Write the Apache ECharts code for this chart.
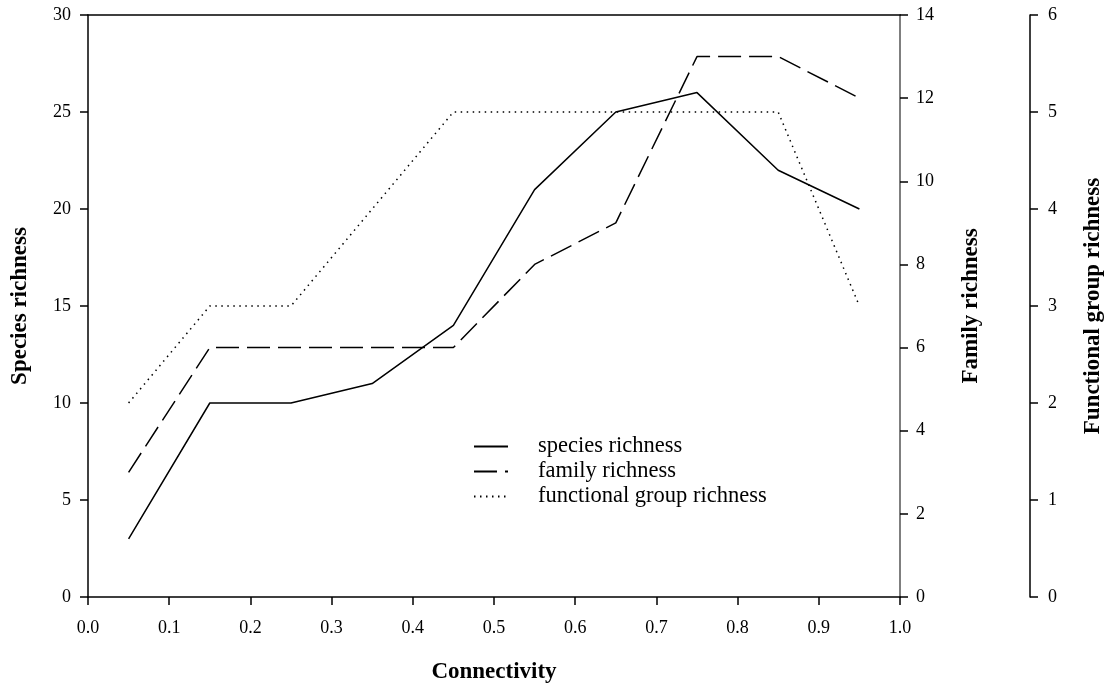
<!DOCTYPE html>
<html>
<head>
<meta charset="utf-8">
<script src="https://cdn.jsdelivr.net/npm/echarts@6/dist/echarts.min.js"></script>
<style>html,body{margin:0;padding:0;background:#fff}#c{width:1112px;height:696px}</style>
</head>
<body>
<div id="c"></div>
<script>
const connectivity = [0.05, 0.15, 0.25, 0.35, 0.45, 0.55, 0.65, 0.75, 0.85, 0.95];
const speciesRichness = [3, 10, 10, 11, 14, 21, 25, 26, 22, 20];
const familyRichness = [3, 6, 6, 6, 6, 8, 9, 13, 13, 12];
const functionalRichness = [2, 3, 3, 4, 5, 5, 5, 5, 5, 3];
const seriesNames = ['species richness', 'family richness', 'functional group richness'];

const FONT = 'Liberation Serif';
const chart = echarts.init(document.getElementById('c'), null, {renderer: 'canvas'});
const pair = (ys) => connectivity.map((x, i) => [x, ys[i]]);
const tickLabel = {color: '#000', fontFamily: FONT, fontSize: 18};
const nameStyle = {color: '#000', fontFamily: FONT, fontSize: 23, fontWeight: 'bold'};

chart.setOption({
  animation: false,
  backgroundColor: '#fff',
  grid: {left: 88, right: 212, top: 15, bottom: 99, containLabel: false, outerBoundsMode: 'none'},
  legend: {
    orient: 'vertical', left: 468, top: 430, itemWidth: 34, itemHeight: 14, itemGap: 2,
    data: seriesNames,
    itemStyle: {color: 'rgba(0,0,0,0)', borderWidth: 0, opacity: 0},
    textStyle: {color: '#000', fontFamily: FONT, fontSize: 22.5, padding: [0, 0, 0, 25]}
  },
  xAxis: [{
    type: 'value', min: 0, max: 1, interval: 0.1, position: 'bottom',
    name: 'Connectivity', nameLocation: 'middle', nameGap: 64, nameTextStyle: nameStyle,
    axisLine: {show: true, onZero: false, lineStyle: {color: '#000', width: 1.5}},
    axisTick: {show: true, inside: false, length: 8, lineStyle: {color: '#000', width: 1.5}},
    axisLabel: Object.assign({margin: 22, formatter: v => v.toFixed(1)}, tickLabel),
    splitLine: {show: false}
  }, {
    type: 'value', min: 0, max: 1, position: 'top',
    axisLine: {show: true, onZero: false, lineStyle: {color: '#000', width: 1.5}},
    axisTick: {show: false}, axisLabel: {show: false}, splitLine: {show: false}
  }],
  yAxis: [{
    type: 'value', min: 0, max: 30, interval: 5, position: 'left',
    name: 'Species richness', nameLocation: 'middle', nameGap: 56, nameTextStyle: nameStyle,
    axisLine: {show: true, onZero: false, lineStyle: {color: '#000', width: 1.5}},
    axisTick: {show: true, length: 8, lineStyle: {color: '#000', width: 1.5}},
    axisLabel: Object.assign({margin: 17}, tickLabel),
    splitLine: {show: false}
  }, {
    type: 'value', min: 0, max: 14, interval: 2, position: 'right',
    name: 'Family richness', nameLocation: 'middle', nameGap: 60, nameTextStyle: nameStyle,
    axisLine: {show: true, onZero: false, lineStyle: {color: '#555', width: 1.5}},
    axisTick: {show: true, length: 8, lineStyle: {color: '#000', width: 1.5}},
    axisLabel: Object.assign({margin: 16}, tickLabel),
    splitLine: {show: false}
  }, {
    type: 'value', min: 0, max: 6, interval: 1, position: 'right', offset: 130,
    name: 'Functional group richness', nameLocation: 'middle', nameGap: 52, nameTextStyle: nameStyle,
    axisLine: {show: true, onZero: false, lineStyle: {color: '#000', width: 1.5}},
    axisTick: {show: true, length: 8, lineStyle: {color: '#000', width: 1.5}},
    axisLabel: Object.assign({margin: 18}, tickLabel),
    splitLine: {show: false}
  }],
  series: [{
    name: seriesNames[0], type: 'line', xAxisIndex: 0, yAxisIndex: 0,
    data: pair(speciesRichness), symbol: 'none', silent: true,
    lineStyle: {color: '#000', width: 1.5, type: 'solid'}, itemStyle: {color: '#000'}
  }, {
    name: seriesNames[1], type: 'line', xAxisIndex: 0, yAxisIndex: 1,
    data: pair(familyRichness), symbol: 'none', silent: true,
    lineStyle: {color: '#000', width: 1.5, type: [23, 8]}, itemStyle: {color: '#000'}
  }, {
    name: seriesNames[2], type: 'line', xAxisIndex: 0, yAxisIndex: 2,
    data: pair(functionalRichness), symbol: 'none', silent: true,
    lineStyle: {color: '#000', width: 1.5, type: [1.5, 4.5]}, itemStyle: {color: '#000'}
  }]
});
</script>
</body>
</html>
